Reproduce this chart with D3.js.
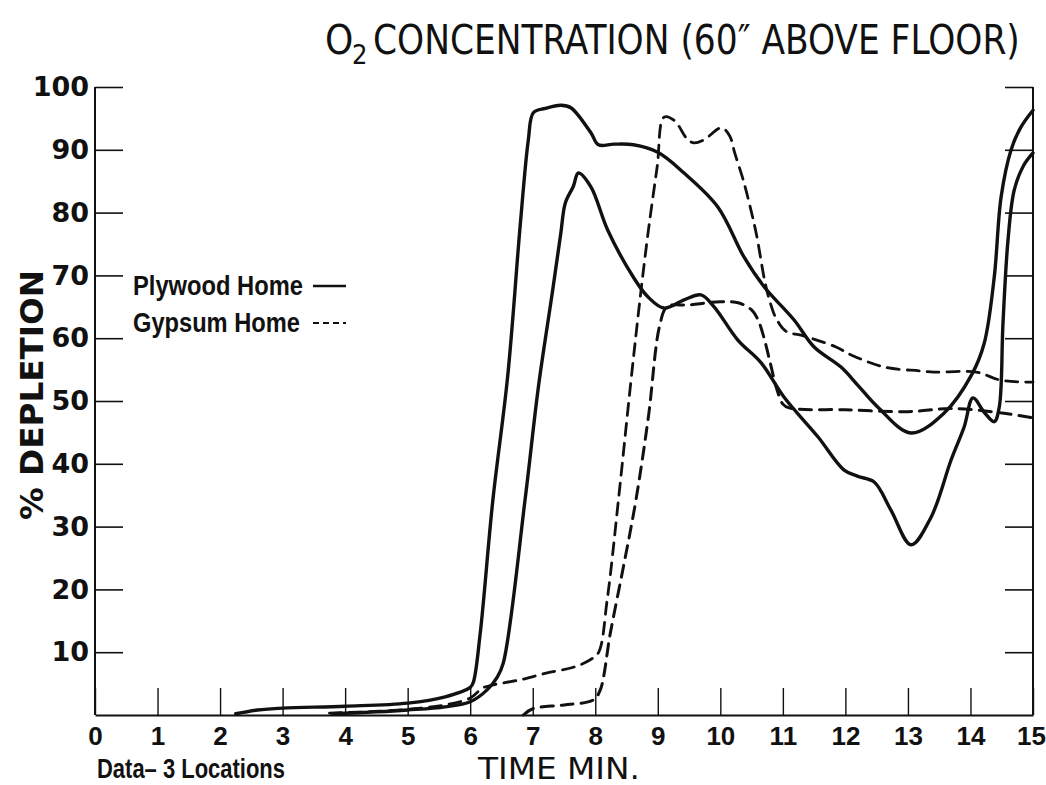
<!DOCTYPE html>
<html><head><meta charset="utf-8">
<script src="https://cdn.jsdelivr.net/npm/d3@7"></script>
<style>body{margin:0;background:#fff}svg{display:block}</style>
</head><body>
<svg id="chart" width="1046" height="785"></svg>
<script>
// ---- data ----
const xTickValues = [0,1,2,3,4,5,6,7,8,9,10,11,12,13,14,15];
const yTickValues = [10,20,30,40,50,60,70,80,90,100];

// Plywood home, location A (solid, upper)
const plyA_t = [2.25,2.6,3.0,4.0,5.0,5.6,6.0,6.05,6.16,6.36,6.6,6.8,6.93,7.01,7.2,7.45,7.61,7.93,8.05,8.3,8.61,9.0,9.42,9.96,10.38,10.7,11.18,11.5,11.93,12.2,12.52,13.05,13.58,14.02,14.22,14.38,14.49,14.65,14.8,15.0];
const plyA_v = [0.2,0.8,1.1,1.4,1.9,2.9,4.4,5.2,13,34,54,78,91.6,95.9,96.6,97.1,96.7,92.7,90.8,90.9,90.8,89.6,86.3,80.9,72.9,68.2,62.9,58.6,55.4,52.5,49,44.9,48.1,54.2,59.2,69.7,82.5,90,93.5,96.3];

// Plywood home, location B (solid, lower)
const plyB_t = [3.8,4.5,5.0,5.6,6.0,6.27,6.43,6.53,6.88,7.09,7.32,7.45,7.52,7.65,7.73,7.93,8.2,8.61,8.84,9.1,9.42,9.69,9.9,10.28,10.65,11.02,11.56,11.98,12.2,12.46,12.73,13.05,13.37,13.69,13.9,14.04,14.22,14.38,14.46,14.52,14.6,14.7,14.85,15.0];
const plyB_v = [0.2,0.5,0.8,1.3,2.1,4.0,6.0,8.3,34.5,52.2,67.7,76.8,81.5,84.2,86.3,84.1,77.2,69.7,66.6,64.8,66.1,66.9,65,59.7,56.1,50.6,44.3,39,38,37.1,32.6,27.1,31.5,40.6,45.9,50.5,48.2,46.7,49,62.4,75.6,83.6,87.5,89.5];

// Gypsum home, location A (dashed, peak ~95)
const gypA_t = [3.75,4.55,5.1,5.6,6.0,6.2,6.37,6.8,7.23,7.65,7.92,8.05,8.19,8.37,8.56,8.72,8.85,8.99,9.1,9.26,9.48,9.58,9.74,10.02,10.15,10.23,10.36,10.47,10.58,10.71,10.79,10.89,11.05,11.32,11.85,12.1,12.62,13.18,13.42,14.09,14.49,15.0];
const gypA_v = [0.3,0.6,1.0,1.6,2.7,4.3,4.8,5.6,6.7,7.6,8.8,9.9,18.3,34.2,52.2,66.6,77.2,87.3,95.2,94.7,91.6,91.1,91.6,93.5,92.2,89.5,85.4,81.2,76.4,69.1,65.9,63.2,61.1,60.4,58.6,57.3,55.4,54.8,54.6,54.6,53.3,53];

// Gypsum home, location B (dashed, plateau ~65)
const gypB_t = [6.85,7.0,7.5,7.97,8.08,8.24,8.45,8.65,8.85,9.03,9.15,9.5,10.0,10.3,10.5,10.6,10.7,10.8,10.9,11.0,11.1,12.0,13.0,13.7,14.5,15.0];
const gypB_v = [0,1.0,1.6,2.4,4.0,13,23.6,34.2,47.5,62,65,65.3,65.8,65.6,64.5,63,60,56,52,49.5,48.9,48.6,48.3,48.8,48.1,47.3];

const legendLabels = ["Plywood Home","Gypsum Home"];

// ---- drawing ----
const svg = d3.select("#chart");
const x = d3.scaleLinear().domain([0,15]).range([95,1033]);
const y = d3.scaleLinear().domain([0,100]).range([715,87]);
const INK = "#111";

// place a text at (px,py) and stretch it horizontally to a target width
function fitText(g, str, px, py, target, style, rotate) {
  const t = g.append("text").text(str).attr("fill", INK);
  Object.entries(style).forEach(([k,v])=>t.style(k,v));
  const w = t.node().getComputedTextLength();
  const s = target / w;
  if (rotate) {
    t.attr("text-anchor","middle")
     .attr("transform",`translate(${px},${py}) rotate(-90) scale(${s},1)`);
  } else {
    t.attr("transform",`translate(${px},${py}) scale(${s},1)`);
  }
  return t;
}

// axes
const xAxis = d3.axisBottom(x).tickValues(xTickValues).tickSize(-27).tickSizeOuter(0).tickPadding(11)
  .tickFormat(d=>String(d));
const gx = svg.append("g").attr("transform","translate(0,715)").call(xAxis);
gx.select(".domain").attr("stroke",INK).attr("stroke-width",2);
gx.selectAll(".tick line").attr("stroke",INK).attr("stroke-width",1.4);
gx.selectAll(".tick text").attr("fill",INK).style("font-family","'Liberation Sans'")
  .style("font-size","26px").style("font-weight","bold").attr("dy","0.72em")
  .attr("dx",d=>d===15?"-2":null);

const yAxis = d3.axisLeft(y).tickValues(yTickValues).tickSize(-28).tickSizeOuter(0).tickPadding(6)
  .tickFormat(d=>String(d));
const gy = svg.append("g").attr("transform","translate(95,0)").call(yAxis);
gy.select(".domain").attr("d","M0,"+y(100)+"V"+y(0)).attr("stroke",INK).attr("stroke-width",2);
gy.selectAll(".tick line").attr("stroke",INK).attr("stroke-width",1.6);
gy.selectAll(".tick text").attr("fill",INK).style("font-family","'DejaVu Sans'")
  .style("font-size","27px").style("font-weight","bold");

const yAxisR = d3.axisRight(y).tickValues(yTickValues).tickSize(-28).tickSizeOuter(0).tickFormat("");
const gr = svg.append("g").attr("transform","translate(1033,0)").call(yAxisR);
gr.select(".domain").attr("d","M0,"+y(100)+"V"+y(0)).attr("stroke",INK).attr("stroke-width",2);
gr.selectAll(".tick line").attr("stroke",INK).attr("stroke-width",1.6);

// curves
const line = d3.line().x(d=>x(d[0])).y(d=>y(d[1])).curve(d3.curveCatmullRom.alpha(0.5));
const series = [
  {t:plyA_t, v:plyA_v, dash:null, w:3.4},
  {t:plyB_t, v:plyB_v, dash:null, w:3.4},
  {t:gypA_t, v:gypA_v, dash:"12,8", w:2.8},
  {t:gypB_t, v:gypB_v, dash:"12,8", w:3.0}
];
series.forEach(s=>{
  svg.append("path").datum(s.t.map((t,i)=>[t,s.v[i]]))
    .attr("d",line).attr("fill","none").attr("stroke",INK)
    .attr("stroke-width",s.w).attr("stroke-linejoin","round").attr("stroke-linecap","round")
    .attr("stroke-dasharray",s.dash);
});

// legend
const lg = svg.append("g");
const legendStyle = {"font-family":"'Liberation Sans'","font-weight":"bold","font-size":"28px"};
legendLabels.forEach((lab,i)=>{
  const yy = 285 + i*37;
  fitText(lg, lab, 133, yy+10, i===0?170:167, legendStyle);
  lg.append("line").attr("x1",313).attr("x2",346).attr("y1",yy+1).attr("y2",yy+1)
    .attr("stroke",INK).attr("stroke-width",i===0?2.6:2.2)
    .attr("stroke-dasharray",i===0?null:"6,4");
});

// title
const narrow = "'Liberation Sans Narrow','DejaVu Sans Condensed',sans-serif";
const tg = svg.append("g");
tg.append("text").attr("x",325).attr("y",54).text("O").attr("fill",INK)
  .style("font-family",narrow).style("font-size","40px");
tg.append("text").attr("x",352).attr("y",64).text("2").attr("fill",INK)
  .style("font-family",narrow).style("font-size","27px");
fitText(tg, "CONCENTRATION (60\u2033 ABOVE FLOOR)", 373, 54, 647, {"font-family":narrow,"font-size":"40px"});

// axis titles
fitText(svg, "% DEPLETION", 43, 395, 250,
  {"font-family":"'DejaVu Sans'","font-weight":"bold","font-size":"32px"}, true);
fitText(svg, "TIME MIN.", 478, 779, 162, {"font-family":narrow,"font-size":"30px"});
fitText(svg, "Data\u2013  3 Locations", 97, 778, 188,
  {"font-family":"'Liberation Sans'","font-weight":"bold","font-size":"27px"});
</script>
</body></html>
